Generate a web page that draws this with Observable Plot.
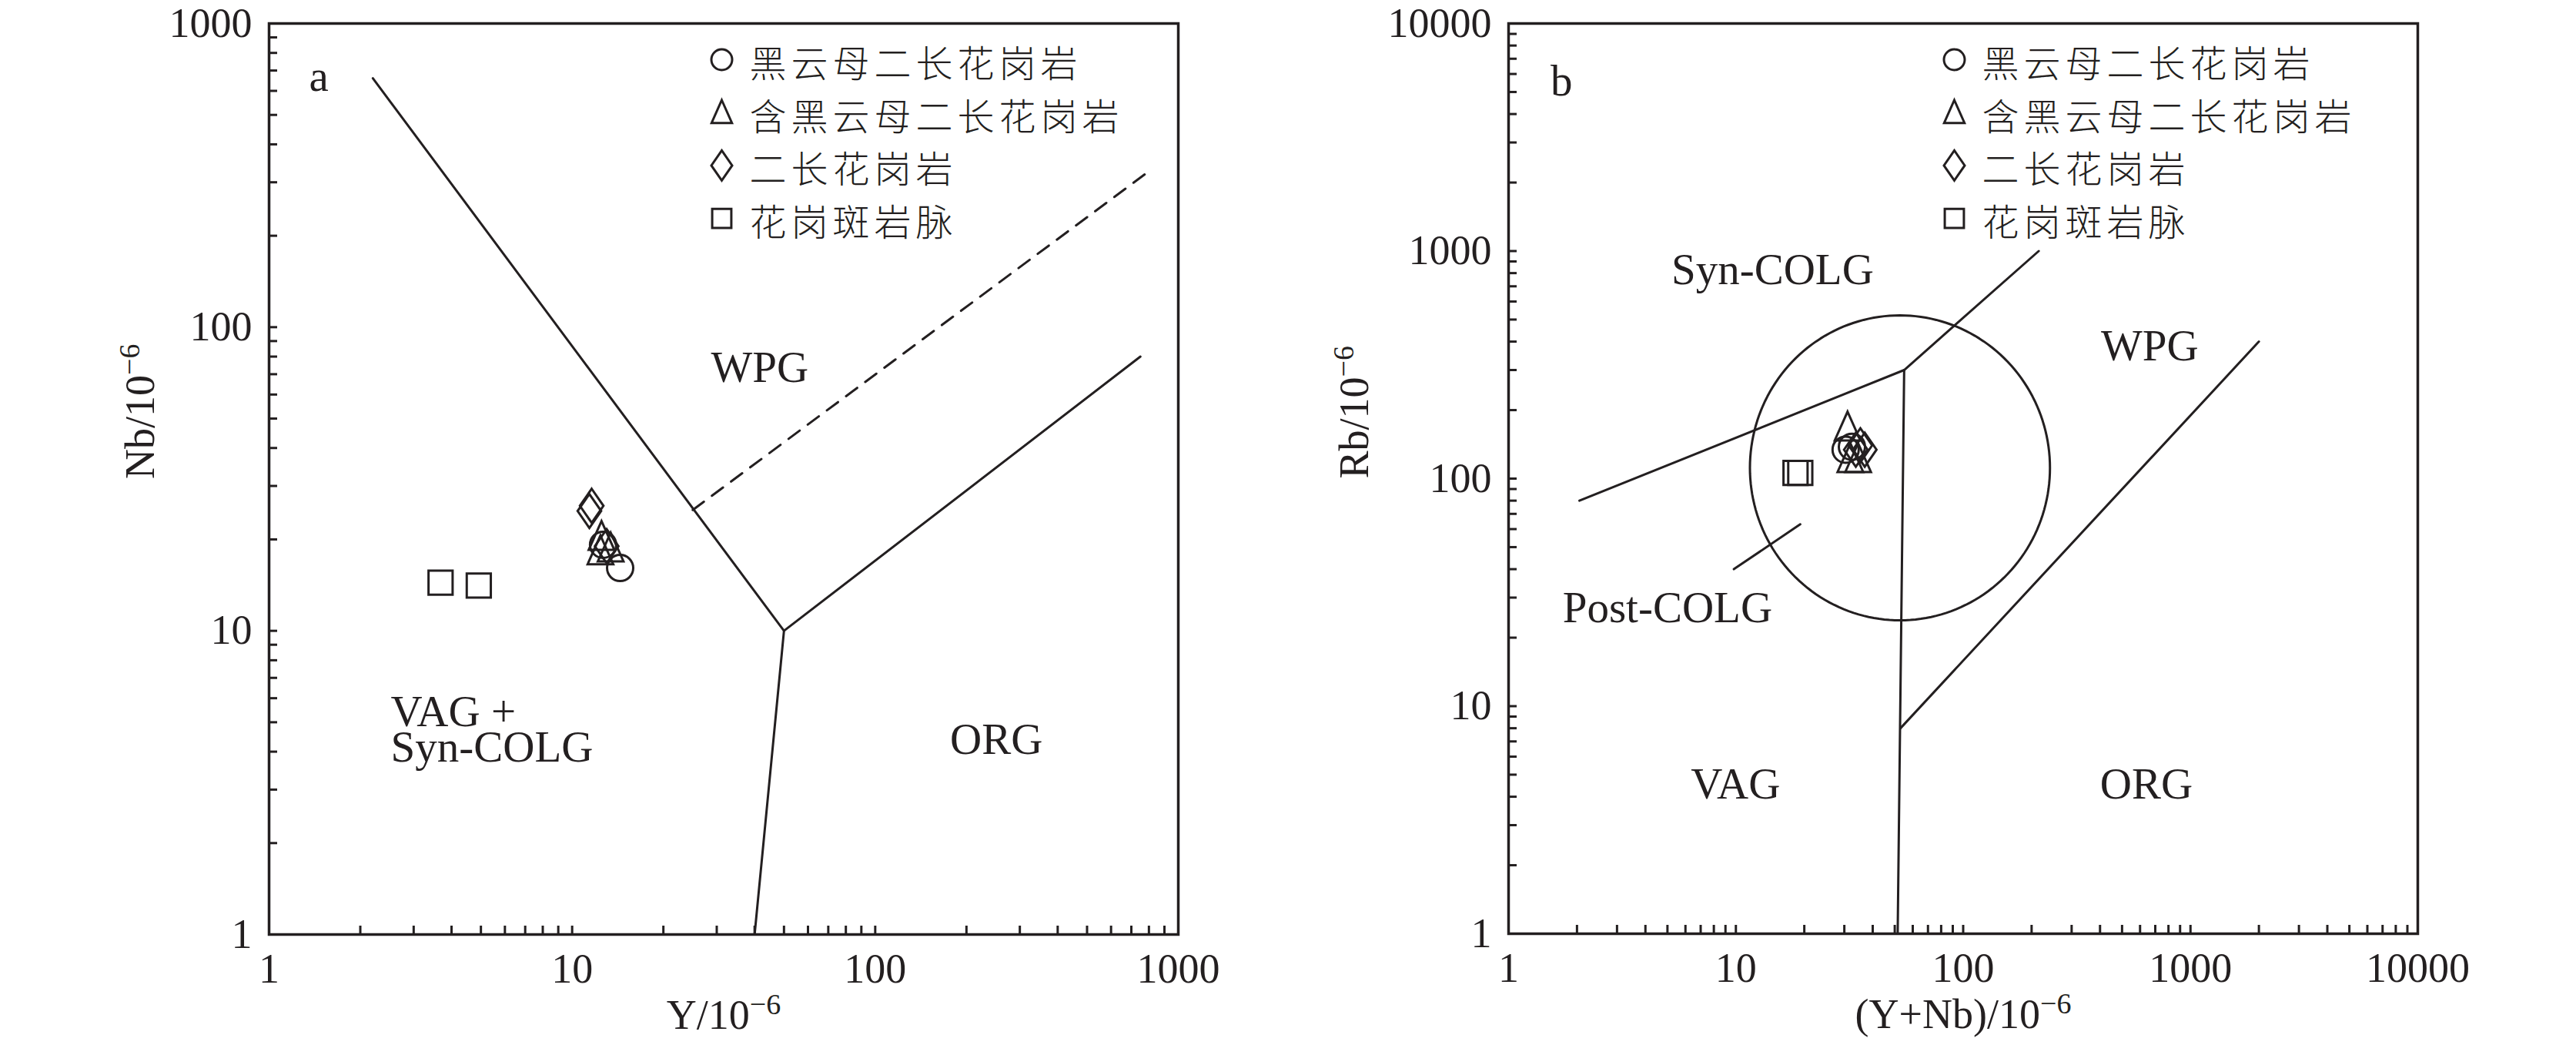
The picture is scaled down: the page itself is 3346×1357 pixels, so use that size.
<!DOCTYPE html>
<html><head><meta charset="utf-8">
<script src="https://cdn.jsdelivr.net/npm/d3@7"></script>
<script src="https://cdn.jsdelivr.net/npm/@observablehq/plot@0.6"></script>
<style>
html,body{margin:0;padding:0;background:#fff;}
#wrap{position:relative;width:3346px;height:1357px;background:#fff;}
#pa{position:absolute;left:0;top:0;}
#pb{position:absolute;left:1673px;top:0;}
</style></head>
<body><div id="wrap"><div id="pa"></div><div id="pb"></div></div>
<script>
const INK = "#231f20";
const SERIF = "Liberation Serif, Times New Roman, serif";
const CJK = "Noto Sans CJK SC";

// ---- categories (legend) ----
const categories = ["黑云母二长花岗岩", "含黑云母二长花岗岩", "二长花岗岩", "花岗斑岩脉"];

// ---- panel a: Nb vs Y ----
const aType = [0, 0, 1, 1, 1, 2, 2, 2, 3, 3];
const aY    = [12.65, 14.4, 12.5, 12.4, 13.4, 11.6, 11.4, 13.0, 3.68, 4.92];
const aNb   = [19.2, 16.1, 20.4, 18.3, 18.7, 25.8, 24.8, 19.0, 14.4, 14.1];
const aXTicks = [1, 10, 100, 1000];
const aYTicks = [1, 10, 100, 1000];
const aSolid1 = [[2.2, 660], [50, 10], [40, 1]];
const aSolid2 = [[50, 10], [750, 80]];
const aDashed = [[25, 25], [780, 320]];
const aLabels = [
  {x: 41.6, y: 72, text: "WPG", anchor: "middle"},
  {x: 2.52, y: 4.62, text: "VAG +\nSyn-COLG", anchor: "start"},
  {x: 251, y: 4.27, text: "ORG", anchor: "middle"},
  {x: 1.46, y: 655, text: "a", anchor: "middle"}
];

// ---- panel b: Rb vs (Y+Nb) ----
const bType = [0, 0, 1, 1, 1, 2, 2, 2, 3, 3];
const bYNb  = [30.4, 32.4, 31.0, 31.9, 34.5, 36.9, 33.7, 35.3, 18.3, 19.2];
const bRb   = [134, 138, 168, 122, 122, 134, 134, 140, 106, 106];
const bXTicks = [1, 10, 100, 1000, 10000];
const bYTicks = [1, 10, 100, 1000, 10000];
const bLine1 = [[2.05, 80], [55, 300], [215, 1000]];
const bLine2 = [[55, 300], [51.5, 1]];
const bLine3 = [[53, 8], [2000, 400]];
const bLine4 = [[9.8, 40], [19.2, 63]];
const bEllipse = {cx: 52.7, cy: 111.5, rx: 0.660, ry: 0.670};
const bLabels = [
  {x: 14.5, y: 804, text: "Syn-COLG", anchor: "middle"},
  {x: 662, y: 371, text: "WPG", anchor: "middle"},
  {x: 5.0, y: 26.2, text: "Post-COLG", anchor: "middle"},
  {x: 9.96, y: 4.39, text: "VAG", anchor: "middle"},
  {x: 640, y: 4.39, text: "ORG", anchor: "middle"},
  {x: 1.71, y: 5400, text: "b", anchor: "middle"}
];

// ---- custom hollow symbols ----
const rOf = s => Math.sqrt(s / Math.PI);
const symCircle = {draw(c, s) { const r = rOf(s); c.moveTo(r, 0); c.arc(0, 0, r, 0, 2 * Math.PI); }};
const symTriangle = {draw(c, s) { const r = rOf(s); c.moveTo(0, -1.2 * r); c.lineTo(0.98 * r, r); c.lineTo(-0.98 * r, r); c.closePath(); }};
const symDiamond = {draw(c, s) { const r = rOf(s); c.moveTo(0, -1.3 * r); c.lineTo(0.9 * r, 0); c.lineTo(0, 1.3 * r); c.lineTo(-0.9 * r, 0); c.closePath(); }};
const symSquare = {draw(c, s) { const r = rOf(s) * 0.92; c.moveTo(-r, -r); c.lineTo(r, -r); c.lineTo(r, r); c.lineTo(-r, r); c.closePath(); }};
const symbols = [symCircle, symTriangle, symDiamond, symSquare];

function minorTicks(majors) {
  const out = [];
  for (let i = 0; i < majors.length; i++) {
    out.push(majors[i]);
    if (i < majors.length - 1) for (let m = 2; m <= 9; m++) out.push(majors[i] * m);
  }
  return out;
}

function panel(cfg) {
  const innerW = cfg.width - cfg.marginLeft - cfg.marginRight;
  const innerH = cfg.height - cfg.marginTop - cfg.marginBottom;
  const pts = cfg.xs.map((x, i) => ({x, y: cfg.ys[i], t: cfg.types[i]}));
  const lineOpts = {x: d => d[0], y: d => d[1], stroke: INK, strokeWidth: 3};
  const marks = [];
  // ticks (inward)
  marks.push(Plot.tickY(minorTicks(cfg.yTicks), {y: d => d, stroke: INK, strokeWidth: 3, insetRight: innerW - 11}));
  marks.push(Plot.tickX(minorTicks(cfg.xTicks), {x: d => d, stroke: INK, strokeWidth: 3, insetTop: innerH - 11}));
  marks.push(Plot.axisX(cfg.xTicks, {tickSize: 0, tickPadding: 24, tickFormat: d => String(d), fontSize: 54, fill: INK, label: null}));
  marks.push(Plot.axisY(cfg.yTicks, {tickSize: 0, tickPadding: 22, tickFormat: d => String(d), fontSize: 54, fill: INK, label: null}));
  // boundaries
  for (const l of cfg.lines) marks.push(Plot.line(l, lineOpts));
  for (const l of (cfg.dashed || [])) marks.push(Plot.line(l, {...lineOpts, strokeDasharray: "18,13"}));
  // region labels
  for (const anchor of ["start", "middle"]) {
    marks.push(Plot.text(cfg.labels.filter(d => d.anchor === anchor), {x: "x", y: "y", text: "text", textAnchor: anchor, lineHeight: 0.8, fontSize: 57, fontFamily: SERIF, fill: INK}));
  }
  // axis titles
  marks.push(Plot.text([cfg.xLabel], {frameAnchor: "bottom", dy: 105, text: d => d, fontSize: 54, fontFamily: SERIF, fill: INK, lineAnchor: "middle"}));
  marks.push(Plot.text([cfg.yLabel], {frameAnchor: "left", dx: cfg.yLabelDx, rotate: -90, text: d => d, fontSize: 54, fontFamily: SERIF, fill: INK, lineAnchor: "middle"}));
  // data points
  symbols.forEach((sym, k) => {
    marks.push(Plot.dot(pts.filter(p => p.t === k), {x: "x", y: "y", symbol: sym, r: 17, stroke: INK, strokeWidth: 3, fill: "none"}));
  });
  // legend
  categories.forEach((cat, i) => {
    marks.push(Plot.dot([cat], {frameAnchor: "top-left", dx: cfg.legendDx, dy: 47 + i * 68.7, symbol: symbols[i], r: i === 2 ? 15 : 13.5, stroke: INK, strokeWidth: 3, fill: "none"}));
    marks.push(Plot.text([cat], {frameAnchor: "top-left", dx: cfg.legendDx + 36, dy: 54 + i * 68.7, text: d => d, textAnchor: "start", lineAnchor: "middle", fontSize: 48, fontFamily: CJK, fontWeight: 300, fill: INK}));
  });
  marks.push(Plot.frame({stroke: INK, strokeWidth: 3.5}));
  const svg = Plot.plot({
    width: cfg.width, height: cfg.height,
    marginLeft: cfg.marginLeft, marginRight: cfg.marginRight, marginTop: cfg.marginTop, marginBottom: cfg.marginBottom,
    style: {fontFamily: SERIF, fontSize: "54px", background: "#fff", color: INK, overflow: "visible"},
    x: {type: "log", domain: cfg.xDomain},
    y: {type: "log", domain: cfg.yDomain},
    marks
  });
  const s = d3.select(svg);
  s.selectAll("g[font-family='Noto Sans CJK SC'] text").attr("letter-spacing", "6px");
  // render the "10^-6" exponent as a real superscript
  s.selectAll("text").each(function () {
    const t = this.textContent;
    if (t.endsWith("⁻⁶") && this.children.length === 0) {
      const base = t.slice(0, -2);
      const el = d3.select(this);
      el.text(base);
      el.append("tspan").attr("dy", "-0.5em").attr("font-size", "38px").text("−6");
    }
  });
  return svg;
}

const ellipsePts = d3.range(0, 361, 2).map(a => {
  const t = a * Math.PI / 180;
  return [10 ** (Math.log10(bEllipse.cx) + bEllipse.rx * Math.cos(t)), 10 ** (Math.log10(bEllipse.cy) + bEllipse.ry * Math.sin(t))];
});

document.getElementById("pa").appendChild(panel({
  width: 1673, height: 1357, marginLeft: 349, marginRight: 143, marginTop: 30, marginBottom: 144,
  xDomain: [1, 1000], yDomain: [1, 1000], xTicks: aXTicks, yTicks: aYTicks,
  xs: aY, ys: aNb, types: aType,
  lines: [aSolid1, aSolid2], dashed: [aDashed], labels: aLabels,
  xLabel: "Y/10⁻⁶", yLabel: "Nb/10⁻⁶", yLabelDx: -167, legendDx: 588
}));
document.getElementById("pb").appendChild(panel({
  width: 1673, height: 1357, marginLeft: 286, marginRight: 206, marginTop: 30, marginBottom: 145,
  xDomain: [1, 10000], yDomain: [1, 10000], xTicks: bXTicks, yTicks: bYTicks,
  xs: bYNb, ys: bRb, types: bType,
  lines: [bLine1, bLine2, bLine3, bLine4, ellipsePts], labels: bLabels,
  xLabel: "(Y+Nb)/10⁻⁶", yLabel: "Rb/10⁻⁶", yLabelDx: -200, legendDx: 579
}));
</script>
</body></html>
